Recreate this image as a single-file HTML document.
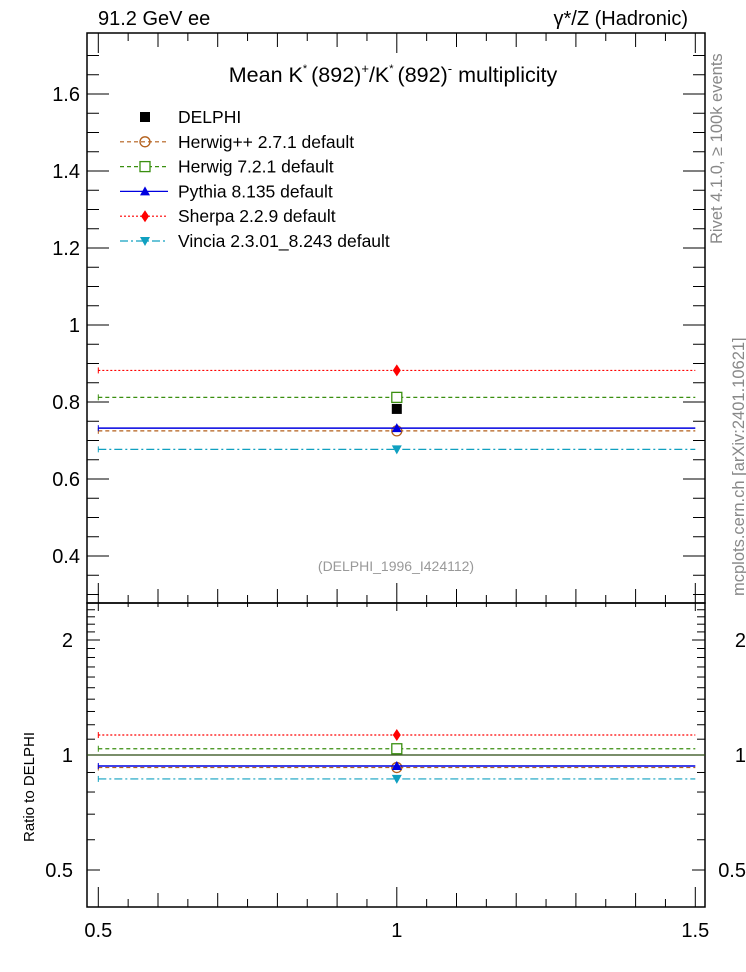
<!DOCTYPE html>
<html><head><meta charset="utf-8"><style>
html,body{margin:0;padding:0;background:#fff;}
svg{display:block;font-family:"Liberation Sans",Arial,sans-serif;}
</style></head><body>
<svg id="c" width="746" height="972" viewBox="0 0 746 972">
<text x="98" y="25" font-size="20">91.2 GeV ee</text>
<text x="688" y="25" font-size="20" text-anchor="end">γ*/Z (Hadronic)</text>
<text x="393" y="82" font-size="21.5" text-anchor="middle">Mean K<tspan dy="-10" font-size="11">*</tspan><tspan dy="10" dx="4">(892)</tspan><tspan dy="-9" font-size="13">+</tspan><tspan dy="9">/K</tspan><tspan dy="-10" font-size="11">*</tspan><tspan dy="10" dx="4">(892)</tspan><tspan dy="-9" font-size="13">-</tspan><tspan dy="9"> multiplicity</tspan></text>
<text x="396" y="571" font-size="14" fill="#999" text-anchor="middle">(DELPHI_1996_I424112)</text>
<text transform="translate(722,244) rotate(-90)" font-size="16.5" fill="#888">Rivet 4.1.0, ≥ 100k events</text>
<text transform="translate(744,596) rotate(-90)" font-size="16.5" fill="#888">mcplots.cern.ch [arXiv:2401.10621]</text>
<text transform="translate(34,787) rotate(-90)" font-size="15" text-anchor="middle">Ratio to DELPHI</text>
<g id="g"></g>
</svg>
<script>
const names=["DELPHI","Herwig++ 2.7.1 default","Herwig 7.2.1 default","Pythia 8.135 default","Sherpa 2.2.9 default","Vincia 2.3.01_8.243 default"];
const values=[0.782,0.725,0.812,0.732,0.882,0.677];
const xCenter=[1.0];
const xEdges=[0.5,1.5];
const mainTicks=[0.4,0.6,0.8,1,1.2,1.4,1.6];
const ratioTicks=[0.5,1,2];
const xTicks=[0.5,1,1.5];
const colors=["#000","#b35f1a","#3a8f10","#0000e0","#f00","#10a0c0"];
const dashes=["","4,3","4,3","","2,2","8,3,2,3"];
const ns="http://www.w3.org/2000/svg";
const g=document.getElementById('g');
const L=87,R=705,T=33,M=603,B=907;
const X=v=>98.3+(v-0.5)*597;
const Y=v=>325-(v-1)*385;
const YR=v=>755-Math.log2(v)*115;
function mk(t,a,p){const e=document.createElementNS(ns,t);for(const k in a)e.setAttribute(k,a[k]);(p||g).appendChild(e);return e;}
let f=mk('rect',{x:L,y:T,width:R-L,height:M-T,fill:'none',stroke:'#000','stroke-width':1.5});


f=mk('rect',{x:L,y:M,width:R-L,height:B-M,fill:'none',stroke:'#000','stroke-width':1.5});


for(let v=0.3;v<=1.75;v+=0.05){const vv=Math.round(v*100)/100;const maj=Math.abs(vv*5-Math.round(vv*5))<1e-6;const y=Y(vv);if(y<T||y>M)continue;const l=maj?22:12;
mk('line',{x1:L,x2:L+l,y1:y,y2:y,stroke:'#000'});mk('line',{x1:R,x2:R-l,y1:y,y2:y,stroke:'#000'});}
mainTicks.forEach(v=>{const t=mk('text',{x:80,y:Y(v)+7,'font-size':20,'text-anchor':'end'});t.textContent=String(v);

});
const rt=[0.4,0.5,0.6,0.7,0.8,0.9,1,1.1,1.2,1.3,1.4,1.5,1.6,1.7,1.8,1.9,2,2.1,2.2,2.3,2.4,2.5];
rt.forEach(v=>{const y=YR(v);if(y<M||y>B)return;const maj=ratioTicks.includes(v);const l=maj?13:8;
mk('line',{x1:L,x2:L+l,y1:y,y2:y,stroke:'#000'});mk('line',{x1:R,x2:R-l,y1:y,y2:y,stroke:'#000'});});
ratioTicks.forEach(v=>{let t=mk('text',{x:73,y:YR(v)+7,'font-size':20,'text-anchor':'end'});t.textContent=String(v);


t=mk('text',{x:746,y:YR(v)+7,'font-size':20,'text-anchor':'end'});t.textContent=String(v);

});
for(let i=0;i<=20;i++){const v=0.5+i*0.05;const x=X(v);const maj=i%10==0,med=i%2==0;const l=maj?20:med?14:8;
[M,B].forEach(y0=>{mk('line',{x1:x,x2:x,y1:y0,y2:y0-l,stroke:'#000'});});
mk('line',{x1:x,x2:x,y1:M,y2:M+(maj?8:4),stroke:'#000'});
mk('line',{x1:x,x2:x,y1:T,y2:T+(maj?20:med?14:8),stroke:'#000'});}
xTicks.forEach(v=>{const t=mk('text',{x:X(v),y:937,'font-size':20,'text-anchor':'middle'});t.textContent=String(v);

});
mk('line',{x1:L,x2:R,y1:YR(1),y2:YR(1),stroke:'#2a4a10','stroke-width':1.2});
function marker(i,x,y,p){const c=colors[i];
if(i==0)mk('rect',{x:x-5,y:y-5,width:10,height:10,fill:'#000'},p);
if(i==1)mk('circle',{cx:x,cy:y,r:5,fill:'none',stroke:c,'stroke-width':1.3},p);
if(i==2)mk('rect',{x:x-5,y:y-5,width:10,height:10,fill:'#fff',stroke:c,'stroke-width':1.3},p);
if(i==3)mk('path',{d:`M${x-5},${y+4}L${x+5},${y+4}L${x},${y-5}Z`,fill:c},p);
if(i==4)mk('path',{d:`M${x},${y-6}L${x+4},${y}L${x},${y+6}L${x-4},${y}Z`,fill:c},p);
if(i==5)mk('path',{d:`M${x-5},${y-4}L${x+5},${y-4}L${x},${y+5}Z`,fill:c},p);}
[4,2,1,3,5,0].forEach(i=>{const gr=mk('g',{});


const y=Y(values[i]),yr=YR(values[i]/values[0]);
if(i>0){[y,yr].forEach(yy=>{mk('line',{x1:X(xEdges[0]),x2:X(xEdges[1]),y1:yy,y2:yy,stroke:colors[i],'stroke-width':i==3?1.5:1.2,'stroke-dasharray':dashes[i]},gr);
mk('line',{x1:X(xEdges[0]),x2:X(xEdges[0]),y1:yy-3,y2:yy+3,stroke:colors[i]},gr);});
marker(i,X(xCenter[0]),yr,gr);}
marker(i,X(xCenter[0]),y,gr);});
names.forEach((n,i)=>{const y=117+i*24.8;const lg=mk('g',{});


if(i>0)mk('line',{x1:120,x2:168,y1:y,y2:y,stroke:colors[i],'stroke-width':1.2,'stroke-dasharray':dashes[i]},lg);
marker(i,145,y,lg);
const t=mk('text',{x:178,y:y+6,'font-size':17.5},lg);t.textContent=n;});
</script>
</body></html>
